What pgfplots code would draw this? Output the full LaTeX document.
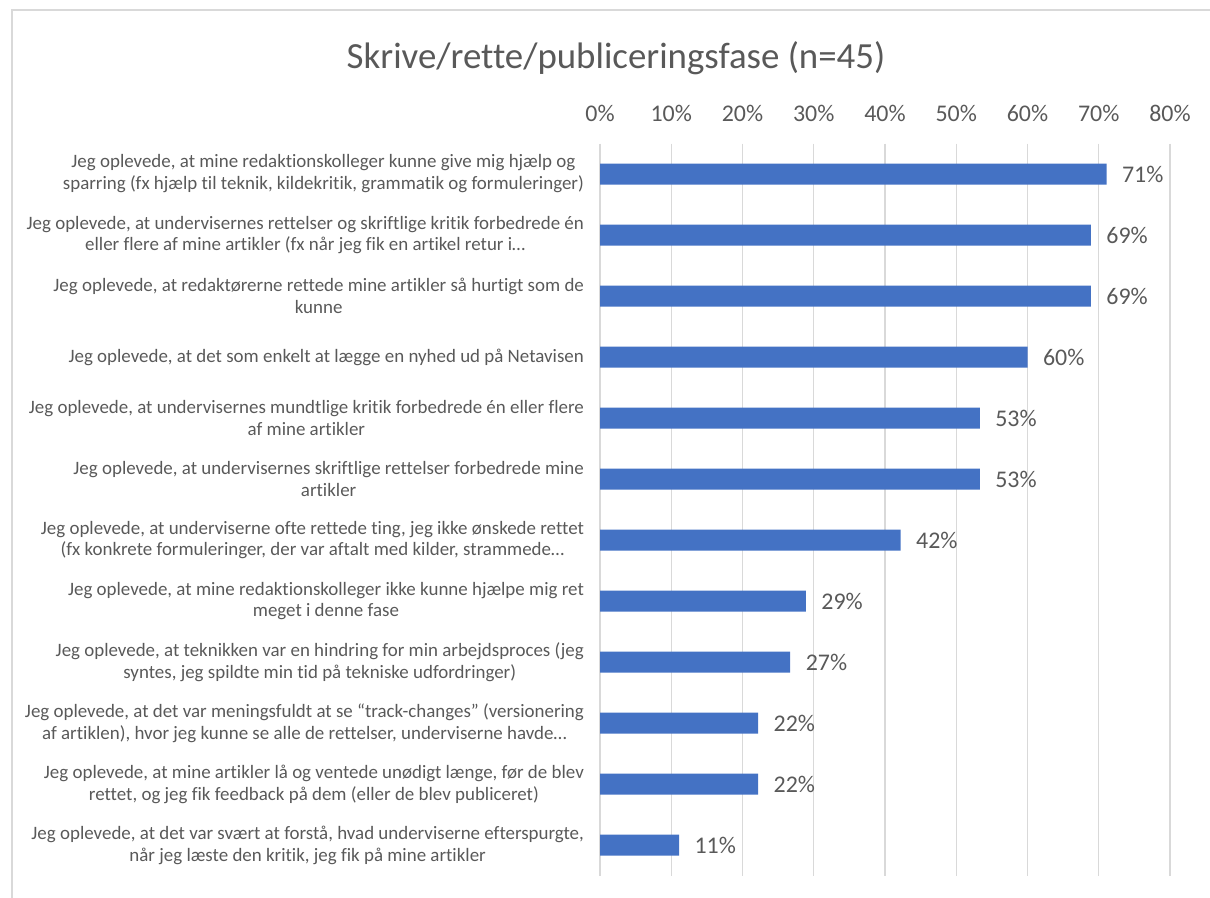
\documentclass[border=0pt]{standalone}
\usepackage{pgfplots}
\pgfplotsset{compat=1.18}
\usepackage{fontspec}
\setmainfont{Carlito}[Ligatures=NoCommon]
\definecolor{barblue}{HTML}{4472C4}
\definecolor{txtgray}{HTML}{595959}
\definecolor{gridgray}{HTML}{D9D9D9}
\begin{document}
\begin{tikzpicture}[x=1bp,y=1bp]
\useasboundingbox (0,0) rectangle (1210,-898);
\draw[gridgray, line width=1.5bp] (12,-1000) -- (12,-10) -- (1300,-10);
\node[font=\fontsize{37}{44}\selectfont, text=txtgray] at (616,-58) {Skrive/rette/publiceringsfase (n=45)};
\begin{axis}[
  at={(600bp,-143.5bp)}, anchor=north west,
  width=570bp, height=732bp, scale only axis,
  xbar, bar width=21bp,
  xmin=0, xmax=80, ymin=-0.5, ymax=11.5, y dir=reverse,
  xtick={0,10,20,30,40,50,60,70,80},
  xticklabels={0\%,10\%,20\%,30\%,40\%,50\%,60\%,70\%,80\%},
  xticklabel pos=upper,
  xticklabel style={font=\fontsize{24}{28}\selectfont, text=txtgray, yshift=18bp},
  ytick={0,1,2,3,4,5,6,7,8,9,10,11},
  yticklabels={
    {Jeg oplevede, at mine redaktionskolleger kunne give mig hjælp og\\sparring (fx hjælp til teknik, kildekritik, grammatik og formuleringer)},
    {Jeg oplevede, at undervisernes rettelser og skriftlige kritik forbedrede én\\eller flere af mine artikler (fx når jeg fik en artikel retur i…},
    {Jeg oplevede, at redaktørerne rettede mine artikler så hurtigt som de\\kunne},
    {Jeg oplevede, at det som enkelt at lægge en nyhed ud på Netavisen},
    {Jeg oplevede, at undervisernes mundtlige kritik forbedrede én eller flere\\af mine artikler},
    {Jeg oplevede, at undervisernes skriftlige rettelser forbedrede mine\\artikler},
    {Jeg oplevede, at underviserne ofte rettede ting, jeg ikke ønskede rettet\\(fx konkrete formuleringer, der var aftalt med kilder, strammede…},
    {Jeg oplevede, at mine redaktionskolleger ikke kunne hjælpe mig ret\\meget i denne fase},
    {Jeg oplevede, at teknikken var en hindring for min arbejdsproces (jeg\\syntes, jeg spildte min tid på tekniske udfordringer)},
    {Jeg oplevede, at det var meningsfuldt at se “track-changes” (versionering\\af artiklen), hvor jeg kunne se alle de rettelser, underviserne havde…},
    {Jeg oplevede, at mine artikler lå og ventede unødigt længe, før de blev\\rettet, og jeg fik feedback på dem (eller de blev publiceret)},
    {Jeg oplevede, at det var svært at forstå, hvad underviserne efterspurgte,\\når jeg læste den kritik, jeg fik på mine artikler}
  },
  yticklabel style={font=\fontsize{19}{22}\selectfont, text=txtgray, align=center, inner sep=0pt, xshift=-16bp},
  axis line style={draw=none}, major tick length=0pt,
  xmajorgrids, grid style={gridgray, line width=1.2bp},
  nodes near coords={\pgfmathprintnumber[fixed,precision=0,assume math mode=true]{\pgfplotspointmeta}\%},
  nodes near coords style={font=\fontsize{24}{28}\selectfont, text=txtgray, anchor=west, xshift=12bp},
]
\addplot[fill=barblue, draw=none] coordinates {
  (71.1,0) (68.9,1) (68.9,2) (60.0,3) (53.3,4) (53.3,5)
  (42.2,6) (28.9,7) (26.7,8) (22.2,9) (22.2,10) (11.1,11)
};
\end{axis}
\end{tikzpicture}
\end{document}
